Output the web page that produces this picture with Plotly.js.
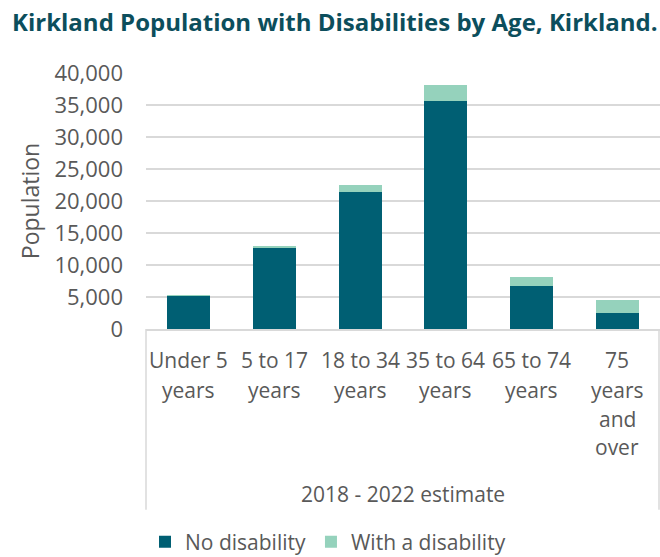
<!DOCTYPE html>
<html><head><meta charset="utf-8">
<script src="https://cdn.plot.ly/plotly-3.0.1.min.js"></script>
<style>body{margin:0;background:#fff}</style>
</head><body><div id="chart" style="width:660px;height:557px"></div>
<script>
// ---- data ----
const categories = ["Under 5 years", "5 to 17 years", "18 to 34 years", "35 to 64 years", "65 to 74 years", "75 years and over"];
const categoryLines = [["Under 5", "years"], ["5 to 17", "years"], ["18 to 34", "years"], ["35 to 64", "years"], ["65 to 74", "years"], ["75", "years", "and", "over"]];
const noDisability = [5250, 12600, 21350, 35550, 6700, 2450];
const withDisability = [60, 400, 1150, 2550, 1420, 2130];
const seriesNames = ["No disability", "With a disability"];
const groupLabel = "2018 - 2022 estimate";
const chartTitle = "Kirkland Population with Disabilities by Age, Kirkland.";
const yTitle = "Population";
const yTicks = [0, 5000, 10000, 15000, 20000, 25000, 30000, 35000, 40000];

// ---- layout constants ----
const FONT = "Open Sans, Liberation Sans, sans-serif";
const GREY = "#595959";
const plotTop = 73.3, plotBottom = 329.3, plotH = plotBottom - plotTop;
const py = p => (plotBottom - p) / plotH;   // pixel -> paper y

const traces = [
  {type: "bar", name: seriesNames[0], x: categories, y: noDisability,
   marker: {color: "#005F73", line: {width: 0}}, hoverinfo: "x+y+name"},
  {type: "bar", name: seriesNames[1], x: categories, y: withDisability,
   marker: {color: "#95D2BC", line: {width: 0}}, hoverinfo: "x+y+name"}
];

const lineY = [360.7, 390, 419, 447.5];
const annotations = [];
categoryLines.forEach((lines, i) => {
  lines.forEach((t, j) => {
    annotations.push({x: categories[i], xref: "x", y: py(lineY[j]), yref: "paper",
      text: t, showarrow: false, xanchor: "center", yanchor: "middle",
      font: {family: FONT, size: 21, color: GREY}});
  });
});
annotations.push({x: 0.5, xref: "paper", y: py(494), yref: "paper", text: groupLabel,
  showarrow: false, xanchor: "center", yanchor: "middle",
  font: {family: FONT, size: 21, color: GREY}});

const layout = {
  width: 660, height: 557,
  margin: {l: 146, r: 0, t: plotTop, b: 557 - plotBottom, pad: 0, autoexpand: false},
  paper_bgcolor: "#fff", plot_bgcolor: "#fff",
  barmode: "stack", bargap: 0.5,
  title: {text: "<b>" + chartTitle + "</b>", xref: "container", yref: "container",
    x: 12 / 660, xanchor: "left", y: 1 - 23 / 557, yanchor: "middle",
    font: {family: FONT, size: 24, color: "#0C4E5C"}},
  xaxis: {type: "category", range: [-0.5, 5.5], showticklabels: false, ticks: "",
    showline: true, linecolor: "#D9D9D9", linewidth: 1.5, showgrid: false, zeroline: false, fixedrange: true},
  yaxis: {range: [0, 40000], tickvals: yTicks, tickformat: ",", ticks: "",
    showgrid: true, gridcolor: "#D9D9D9", gridwidth: 1.5, zeroline: false, showline: false,
    ticklabelstandoff: 22, tickfont: {family: FONT, size: 22, color: GREY},
    title: {text: yTitle, standoff: 8, font: {family: FONT, size: 23, color: GREY}},
    automargin: false, fixedrange: true},
  showlegend: true,
  legend: {orientation: "h", xref: "container", yref: "container", x: 145 / 660, xanchor: "left",
    y: 1 - 542 / 557, yanchor: "middle",
    font: {family: FONT, size: 21, color: GREY}, traceorder: "normal",
    itemwidth: 30, tracegroupgap: 0, bgcolor: "rgba(0,0,0,0)"},
  annotations: annotations,
  shapes: [
    {type: "line", xref: "paper", yref: "paper", x0: 0, x1: 0, y0: 0, y1: py(510), line: {color: "#D9D9D9", width: 1.5}},
    {type: "line", xref: "paper", yref: "paper", x0: (659 - 146) / 514, x1: (659 - 146) / 514, y0: 0, y1: py(510), line: {color: "#D9D9D9", width: 1.5}}
  ]
};

Plotly.newPlot("chart", traces, layout, {displayModeBar: false, responsive: false});
</script>
</body></html>
